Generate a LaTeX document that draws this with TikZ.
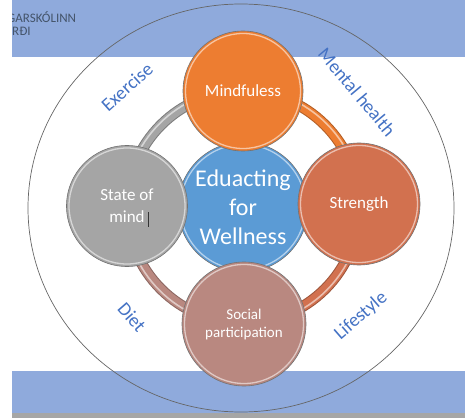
\documentclass[tikz,border=0pt]{standalone}
\usepackage{fontspec}
\setmainfont{Carlito}
\definecolor{bandblue}{HTML}{8FAADC}
\definecolor{stripgray}{HTML}{A6A6A6}
\definecolor{cOrange}{HTML}{ED7D31}
\definecolor{cGray}{HTML}{A5A5A5}
\definecolor{cCoral}{HTML}{D2714F}
\definecolor{cRose}{HTML}{B98880}
\definecolor{cBlue}{HTML}{5B9BD5}
\definecolor{cLabel}{HTML}{4472C4}
\definecolor{cHead}{HTML}{44546A}
\begin{document}
\begin{tikzpicture}[x=1pt,y=1pt,
  bubble/.style={circle, inner sep=0pt, text=white, align=center, draw=black!55, line width=0.6pt},
  ringseg/.style={line width=11pt, draw=#1!75!black},
  ringfill/.style={line width=9pt, draw=#1},
  ringhi/.style={line width=1.6pt, draw=white, opacity=0.55},
  hilite/.style={draw=white, opacity=0.55, line width=1.3pt},
  lbl/.style={text=cLabel, font=\fontsize{19}{21}\selectfont, inner sep=0pt}
]
\useasboundingbox (0,0) rectangle (465,418);
% bands
\fill[bandblue] (12,361) rectangle (465,418);
\fill[bandblue] (12,5) rectangle (465,47);
\fill[stripgray] (12,0) rectangle (465,5);
\begin{scope}
  \clip (12,361) rectangle (200,418);
  \node[anchor=west, text=cHead, font=\fontsize{13}{15}\selectfont, inner sep=0pt] (h1) at (7,401) {GARSKÓLINN};
  \node[anchor=west, text=cHead, font=\fontsize{13}{15}\selectfont, inner sep=0pt] (h2) at (12,387) {RÐI};
\end{scope}
% outer ellipse
\draw[black!60, line width=0.7pt] (241,210) ellipse [x radius=213, y radius=204];
% ring
\coordinate (C) at (243,211);
\foreach \a/\b/\c in {90/0/cOrange, 0/-90/cCoral, -90/-180/cRose, 180/90/cGray}{
  \draw[ringseg=\c] (C) ++(\a:116) arc[start angle=\a, end angle=\b, radius=116];
  \draw[ringfill=\c] (C) ++(\a:116) arc[start angle=\a, end angle=\b, radius=116];
  \draw[ringhi] (C) ++(\a:118) arc[start angle=\a, end angle=\b, radius=118];
}
% center
\node[bubble, fill=cBlue, minimum size=130pt, font=\fontsize{24}{29}\selectfont] (center) at (243,211) {Eduacting\\for\\Wellness};
\draw[hilite] (center.center) circle (62.5);
% outer bubbles
\node[bubble, fill=cOrange, minimum size=120pt, font=\fontsize{17}{20}\selectfont] (mind) at (243,327) {Mindfuless};
\draw[hilite] (mind.center) circle (57.5);
\node[bubble, fill=cGray, minimum size=121pt, font=\fontsize{17}{22}\selectfont] (state) at (127,212) {State of\\mind};
\draw[hilite] (state.center) circle (58);
\draw[black!80, line width=0.5pt] (148,206) -- (148,191);
\node[bubble, fill=cCoral, minimum size=122pt, font=\fontsize{17}{20}\selectfont] (strength) at (359,214) {Strength};
\draw[hilite] (strength.center) circle (58.5);
\node[bubble, fill=cRose, minimum size=124pt, font=\fontsize{15}{18}\selectfont] (social) at (244,94) {Social\\participation};
\draw[hilite] (social.center) circle (59.5);
% labels
\node[lbl, rotate=42] (ex) at (127,331) {Exercise};
\node[lbl, rotate=-50] (mh) at (357,326) {Mental health};
\node[lbl, rotate=-49] (diet) at (132,101) {Diet};
\node[lbl, rotate=41] (life) at (361,102) {Lifestyle};
\end{tikzpicture}
\end{document}
